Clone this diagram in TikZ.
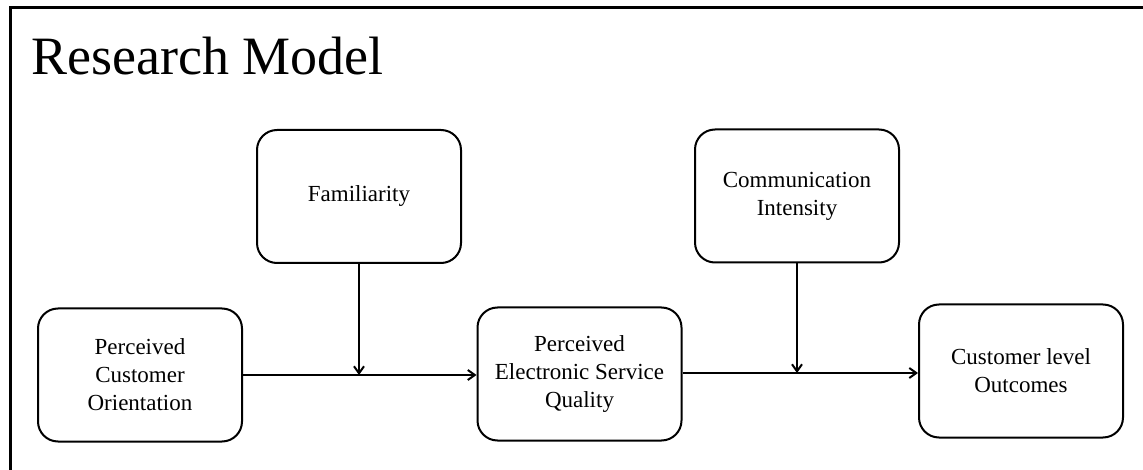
\documentclass[tikz,border=0pt]{standalone}
\usepackage{fontspec}
\setmainfont{Liberation Serif}
\usetikzlibrary{arrows.meta}

\begin{document}
\begin{tikzpicture}[x=1pt,y=-1pt,
        construct/.style={draw, line width=2pt, rounded corners=20pt,
            minimum width=204pt, minimum height=133pt, align=center,
            font=\fontsize{23}{28}\selectfont, inner sep=0pt},
        link/.style={-{Straight Barb[length=7pt,width=10pt]}, line width=2pt}]
            \useasboundingbox (0,0) rectangle (1143,470);
            \draw[line width=3pt] (10,8) rectangle (1160,490);
            \node[anchor=base west, font=\fontsize{54}{60}\selectfont, inner sep=0pt] (title) at (31,75) {Research Model};
            \node[construct] (pco) at (140,375) {Perceived\\Customer\\Orientation};
            \node[construct] (fam) at (359,196.5) {Familiarity};
            \node[construct] (pesq) at (579.5,374) {Perceived\\Electronic Service\\Quality};
            \node[construct] (comm) at (797,196) {Communication\\Intensity};
            \node[construct] (clo) at (1021,371) {Customer level\\Outcomes};
            \draw[link] (pco) -- (pesq.west |- pco.east);
            \draw[link] (fam) -- (fam.south |- pco.east);
            \draw[link] (pesq.east |- 0,373) -- (clo.west |- 0,373);
            \draw[link] (comm) -- (comm.south |- 0,373);
        \end{tikzpicture}
\end{document}
